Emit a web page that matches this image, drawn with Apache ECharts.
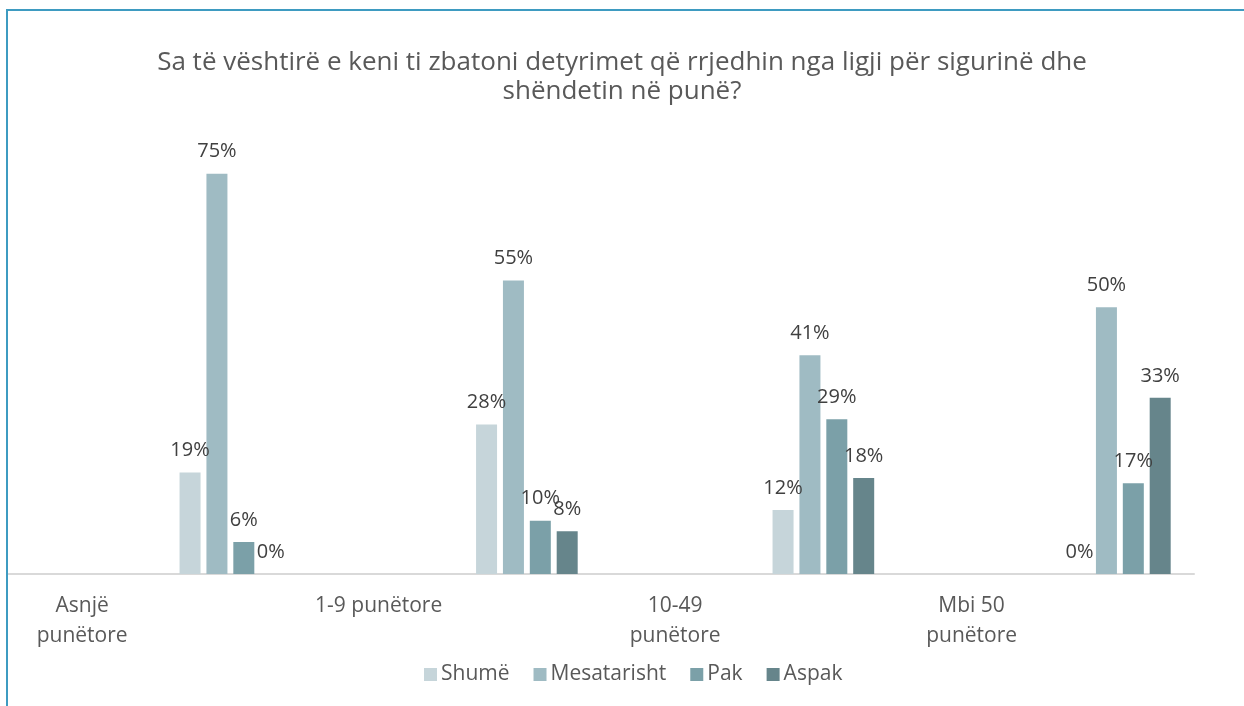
<!DOCTYPE html>
<html>
<head>
<meta charset="utf-8">
<script src="https://cdn.jsdelivr.net/npm/echarts@6/dist/echarts.min.js"></script>
<style>
  html, body { margin: 0; padding: 0; background: #ffffff; }
  #wrap { position: relative; width: 1244px; height: 706px; }
  #chart { width: 1244px; height: 706px; }
  /* cropped chart-area frame: only left and top edges show */
  .frame { position: absolute; left: 6px; top: 9px; right: 0; bottom: 0;
           border-left: 2px solid #3e9bc1; border-top: 2px solid #3e9bc1; pointer-events: none; }
</style>
</head>
<body>
<div id="wrap">
  <div id="chart"></div>
  <div class="frame"></div>
</div>
<script>
// categories: labels sit on even slots, bars sit on the empty slot after each label
const categories = ['Asnjë\npunëtore', '', '1-9 punëtore', '', '10-49\npunëtore', '', 'Mbi 50\npunëtore', ''];
const seriesNames = ['Shumë', 'Mesatarisht', 'Pak', 'Aspak'];
const shume = [null, 19, null, 28, null, 12, null, 0];
const mesatarisht = [null, 75, null, 55, null, 41, null, 50];
const pak = [null, 6, null, 10, null, 29, null, 17];
const aspak = [null, 0, null, 8, null, 18, null, 33];
const colors = ['#c6d5da', '#9fbbc3', '#7ba0a8', '#66858b'];

const chart = echarts.init(document.getElementById('chart'));

const makeSeries = (name, data, color) => ({
  name: name,
  type: 'bar',
  data: data,
  barWidth: 21,
  barGap: '28%',
  itemStyle: { color: color },
  label: {
    show: true,
    position: 'top',
    distance: 12,
    formatter: (p) => p.value + '%',
    color: '#404040',
    fontSize: 20,
    fontFamily: 'Open Sans'
  }
});

const option = {
  animation: false,
  title: {
    text: 'Sa të vështirë e keni ti zbatoni detyrimet që rrjedhin nga ligji për sigurinë dhe\nshëndetin në punë?',
    left: 'center',
    top: 43,
    textStyle: {
      color: '#595959',
      fontSize: 26,
      fontWeight: 'normal',
      fontFamily: 'Open Sans',
      lineHeight: 29
    }
  },
  legend: {
    bottom: 16,
    left: 419,
    itemWidth: 13,
    itemHeight: 13,
    itemGap: 24,
    icon: 'rect',
    data: seriesNames,
    textStyle: { color: '#595959', fontSize: 21, fontFamily: 'Open Sans', padding: [0, 0, 0, -1] }
  },
  grid: { left: 8, right: 50, top: 147, bottom: 132, containLabel: false },
  xAxis: {
    type: 'category',
    data: categories,
    axisLine: { lineStyle: { color: '#d9d9d9', width: 2 } },
    axisTick: { show: false },
    axisLabel: {
      interval: 0,
      margin: 17,
      color: '#595959',
      fontSize: 21,
      fontFamily: 'Open Sans',
      lineHeight: 30
    }
  },
  yAxis: {
    type: 'value',
    min: 0,
    max: 80,
    show: false,
    splitLine: { show: false }
  },
  series: [
    makeSeries(seriesNames[0], shume, colors[0]),
    makeSeries(seriesNames[1], mesatarisht, colors[1]),
    makeSeries(seriesNames[2], pak, colors[2]),
    makeSeries(seriesNames[3], aspak, colors[3])
  ]
};

chart.setOption(option);
</script>
</body>
</html>
